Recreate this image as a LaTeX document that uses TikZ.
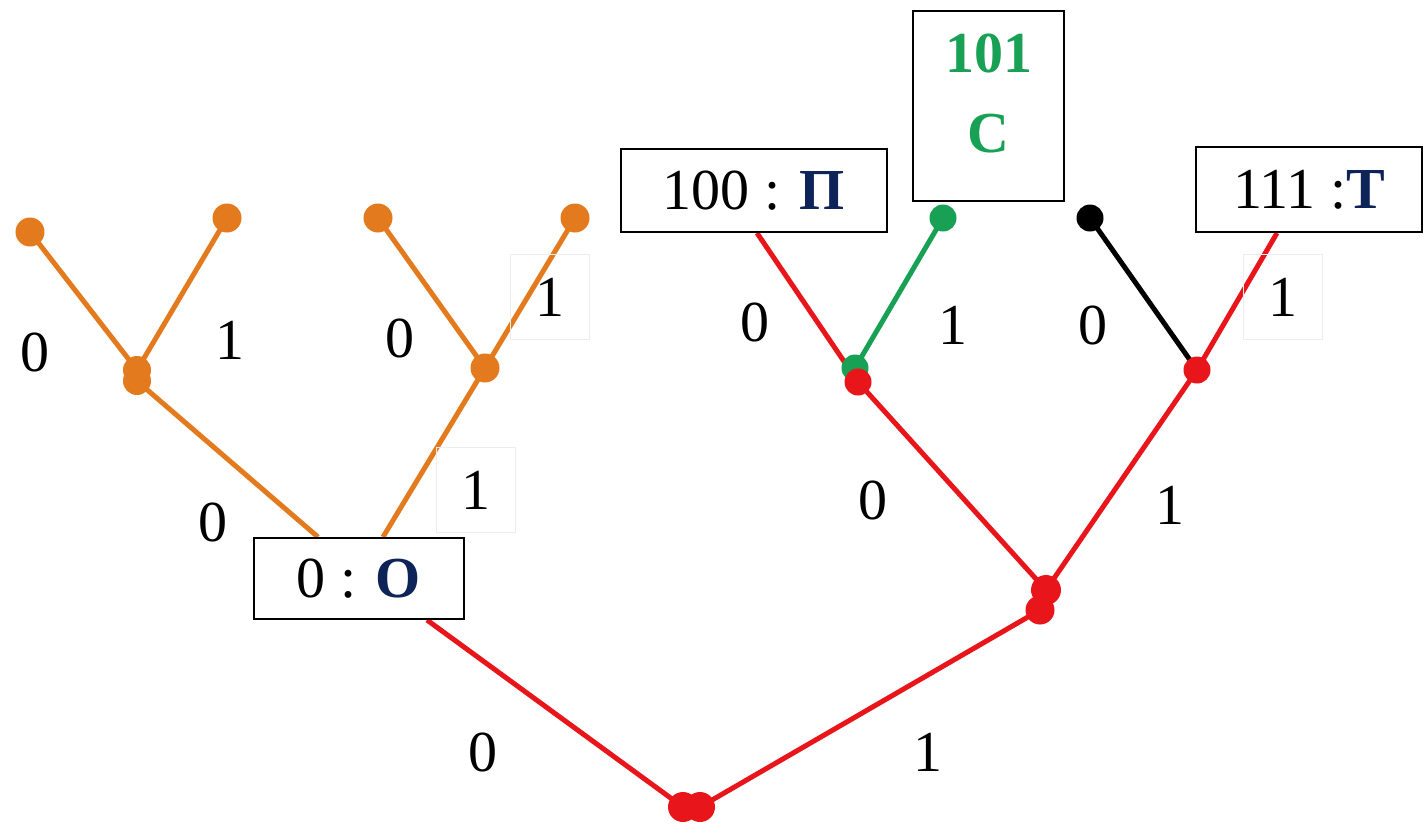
\documentclass[tikz,border=0pt]{standalone}
\usepackage{fontspec}
\setmainfont{Liberation Serif}
\pgfdeclarelayer{background}
\pgfsetlayers{background,main}
\definecolor{org}{RGB}{228,122,30}
\definecolor{rd}{RGB}{232,22,26}
\definecolor{grn}{RGB}{24,160,84}
\definecolor{nv}{RGB}{14,36,88}
\begin{document}
\begin{tikzpicture}[x=1pt,y=-1pt,
  font=\fontsize{58}{80}\selectfont,
  box/.style={draw=black, line width=2pt, fill=white, inner sep=0pt},
  lab/.style={inner sep=0pt},
  flab/.style={inner sep=0pt, draw=black!7, line width=0.8pt, minimum width=79pt, minimum height=85pt},
  oe/.style={org, line width=5pt},
  re/.style={rd, line width=5pt},
  dot/.style={circle, inner sep=0pt, minimum size=#1},
  dot/.default=29pt]
\useasboundingbox (0,0) rectangle (1427,828);

% boxes
\node[box, minimum width=210pt, minimum height=81pt] (o) at (359,578.5) {0 : \textbf{\color{nv}О}};
\node[box, minimum width=266pt, minimum height=83pt] (p) at (754,190.5) {100 : \textbf{\color{nv}П}};
\node[box, minimum width=151pt, minimum height=190pt, align=center, text=grn, font=\fontsize{58}{80}\selectfont\bfseries] (c) at (988.5,106) {101\\С\rule[-26pt]{0pt}{0pt}};
\node[box, minimum width=226pt, minimum height=85pt] (t) at (1309,189.5) {111 :\textbf{\color{nv}Т}};

\coordinate (oL) at ([xshift=-41pt]o.north);
\coordinate (oR) at ([xshift=24pt]o.north);
\coordinate (oB) at ([xshift=68pt]o.south);
\coordinate (pB) at ([xshift=3pt]p.south);
\coordinate (tB) at ([xshift=-32pt]t.south);

% orange dots
\node[dot, fill=org] (l1) at (30,232) {};
\node[dot, fill=org] (l2) at (227,218) {};
\node[dot, fill=org] (l3) at (378,218) {};
\node[dot, fill=org] (l4) at (575,218) {};
\node[dot=28pt, fill=org] (a1a) at (137,370) {};
\node[dot=28pt, fill=org] (a1b) at (137,381) {};
\node[dot, fill=org] (a2) at (485,368) {};

% right part dots
\node[dot=30pt, fill=rd] (r1) at (683,807) {};
\node[dot=30pt, fill=rd] (r2) at (700,807) {};
\node[dot=30pt, fill=rd] (m1) at (1046,590) {};
\node[dot=29pt, fill=rd] (m2) at (1040,610) {};
\node[dot=27pt, fill=grn] (g) at (855,368) {};
\node[dot=27pt, fill=rd] (p0) at (858,382) {};
\node[dot=27pt, fill=rd] (q) at (1197,370) {};
\node[dot=27pt, fill=grn] (gl) at (943,218) {};
\node[dot=27pt, fill=black] (bl) at (1090,218) {};

\begin{pgfonlayer}{background}
\draw[oe] (a1a.center) -- (l1.center);
\draw[oe] (a1a.center) -- (l2.center);
\draw[oe] (a1b.center) -- (oL);
\draw[oe] (a2.center) -- (l3.center);
\draw[oe] (a2.center) -- (l4.center);
\draw[oe] (a2.center) -- (oR);
\draw[re] (oB) -- (r1.center);
\draw[re] (r2.center) -- (m2.center);
\draw[re] (m1.center) -- (p0.center);
\draw[re] (m1.center) -- (q.center);
\draw[re] (p0.center) -- (pB);
\draw[grn, line width=5pt] (g.center) -- (gl.center);
\draw[line width=5pt] (q.center) -- (bl.center);
\draw[re] (q.center) -- (tB);
\end{pgfonlayer}

% labels
\node[lab] (e1) at (35,352) {0};
\node[lab] (e2) at (230,340) {1};
\node[lab] (e3) at (400,338) {0};
\node[flab] (e4) at (550,297) {1};
\node[lab] (e5) at (213,522) {0};
\node[flab] (e6) at (476,490) {1};
\node[lab] (e7) at (483,752) {0};
\node[lab] (e8) at (928,752) {1};
\node[lab] (e9) at (873,500) {0};
\node[lab] (e10) at (1170,505) {1};
\node[lab] (e11) at (755,322) {0};
\node[lab] (e12) at (953,325) {1};
\node[lab] (e13) at (1093,325) {0};
\node[flab] (e14) at (1283,297) {1};
\end{tikzpicture}
\end{document}
